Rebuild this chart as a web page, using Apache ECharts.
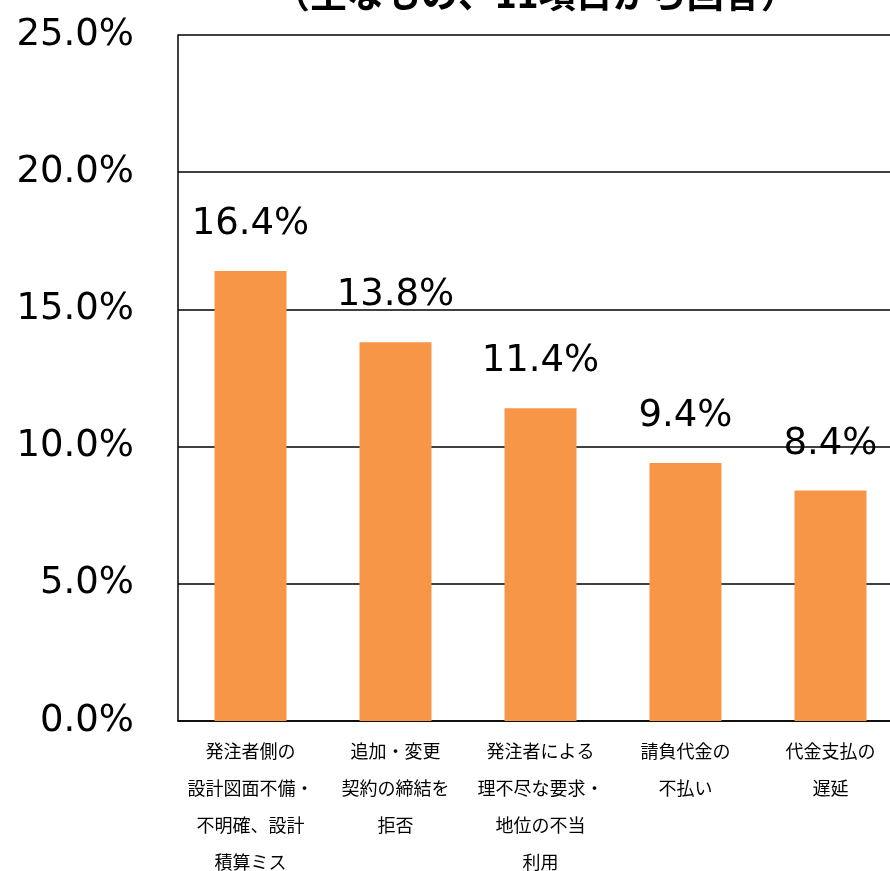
<!DOCTYPE html>
<html><head><meta charset="utf-8">
<script src="https://cdn.jsdelivr.net/npm/echarts@6/dist/echarts.min.js"></script>
<style>html,body{margin:0;padding:0;background:#fff}#c{width:890px;height:871px}</style>
</head><body><div id="c"></div>
<script>
const titleText = '（主なもの、11項目から回答）';
const categories = [
  '発注者側の\n設計図面不備・\n不明確、設計\n積算ミス',
  '追加・変更\n契約の締結を\n拒否',
  '発注者による\n理不尽な要求・\n地位の不当\n利用',
  '請負代金の\n不払い',
  '代金支払の\n遅延'
];
const values = [16.4, 13.8, 11.4, 9.4, 8.4];
const yTicks = [0, 5, 10, 15, 20, 25];

const jp = '"Noto Sans CJK JP", sans-serif';
const num = '"DejaVu Sans", Verdana, sans-serif';
const chart = echarts.init(document.getElementById('c'));
chart.setOption({
  animation: false,
  title: {
    text: titleText, left: 268, top: -30,
    textStyle: {fontFamily: jp, fontSize: 37, fontWeight: 'bold', color: '#000'}
  },
  grid: {left: 178, top: 35, width: 725, height: 686, containLabel: false, outerBoundsMode: 'none'},
  xAxis: {
    type: 'category', data: categories,
    axisLine: {lineStyle: {color: '#000', width: 1.5}},
    axisTick: {show: false},
    axisLabel: {fontFamily: jp, fontSize: 18, color: '#000', lineHeight: 37, margin: 12, interval: 0}
  },
  yAxis: {
    type: 'value', min: yTicks[0], max: yTicks[yTicks.length - 1], interval: 5,
    axisLine: {show: true, lineStyle: {color: '#000', width: 1.5}},
    axisTick: {show: false},
    splitLine: {lineStyle: {color: '#000', width: 1.5}},
    axisLabel: {fontFamily: num, fontSize: 37, color: '#000', margin: 44,
      formatter: v => v.toFixed(1) + '%'}
  },
  series: [{
    type: 'bar', data: values, barWidth: 72,
    itemStyle: {color: '#F79646'},
    label: {show: true, position: 'top', distance: 28, fontFamily: num, fontSize: 37, color: '#000',
      formatter: p => p.value.toFixed(1) + '%'}
  }]
});
</script></body></html>
